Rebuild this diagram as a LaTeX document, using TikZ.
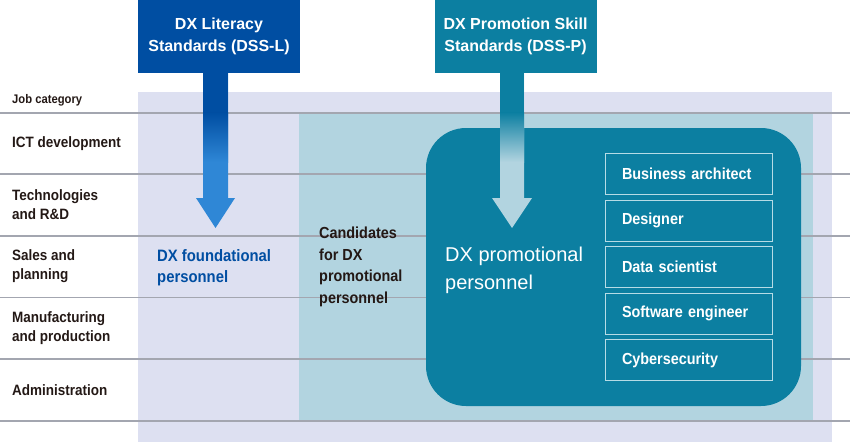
\documentclass[tikz,border=0pt]{standalone}
\usepackage{fontspec}
\setmainfont{Liberation Sans}
\newfontfamily\condfont[FakeStretch=0.9]{Liberation Sans}
\usepackage{tikz}
\usetikzlibrary{positioning}

\definecolor{dssblue}{HTML}{004EA2}
\definecolor{dssteal}{HTML}{0C7FA1}
\definecolor{liteblue}{HTML}{2F87D6}
\definecolor{jobbg}{HTML}{DDE0F1}
\definecolor{paleteal}{HTML}{B2D4E0}
\definecolor{rowline}{HTML}{A3A6B0}
\definecolor{labeltext}{HTML}{231815}
\definecolor{boxedge}{HTML}{B7DCE6}

\begin{document}
\begin{tikzpicture}[
        x=1pt, y=-1pt,
        node distance=46.5pt,
        rowlabel/.style={anchor=west, align=left, inner sep=0pt, text=labeltext, font=\condfont\bfseries\fontsize{15}{19}\selectfont},
        standard/.style={rectangle, inner sep=0pt, minimum width=162pt, minimum height=73pt, text=white, align=center, font=\bfseries\fontsize{16}{22.5}\selectfont},
        role/.style={rectangle, draw=boxedge, line width=0.8pt, text=white, text width=133pt, inner xsep=17pt, minimum height=41pt, align=left, font=\condfont\bfseries\fontsize{16}{19}\selectfont},
        rule/.style={rowline, line width=1.2pt}
    ]
        \useasboundingbox (0,0) rectangle (850,442);

        % Background areas
        \fill[jobbg] (138,92) rectangle (832,442);
        \fill[paleteal] (299,113) rectangle (813,421);

        % Row rules
        \draw[rule] (0,113) -- (850,113);
        \draw[rule] (0,174) -- (850,174);
        \draw[rule] (0,236) -- (850,236);
        \draw[rule] (0,297.5) -- (850,297.5);
        \draw[rule] (0,359) -- (850,359);
        \draw[rule] (0,421) -- (850,421);

        % DX promotional personnel area
        \fill[dssteal, rounded corners=40pt] (426,128) rectangle (801,406);

        % Standards
        \node[standard, fill=dssblue] (dssl) at (219,36.5) {DX Literacy\\Standards (DSS-L)};
        \node[standard, fill=dssteal] (dssp) at (515.5,36.5) {DX Promotion Skill\\Standards (DSS-P)};

        % Arrow from DSS-L
        \coordinate (litTip) at (215.5,228);
        \fill[liteblue] (203,73) -- (203,198) -- (196,198) -- (litTip) -- (235,198) -- (228,198) -- (228,73) -- cycle;
        \fill[dssblue] (203,72) rectangle (228,113);
        \shade[top color=dssblue, bottom color=liteblue] (203,112.5) rectangle (228,162);

        % Arrow from DSS-P
        \coordinate (proTip) at (512,228);
        \fill[paleteal] (500,73) -- (500,198) -- (492,198) -- (proTip) -- (532,198) -- (524,198) -- (524,73) -- cycle;
        \fill[dssteal] (500,72) rectangle (524,113);
        \shade[top color=dssteal, bottom color=paleteal] (500,112.5) rectangle (524,162);

        % Job categories
        \node[rowlabel, font=\condfont\bfseries\fontsize{12.5}{15}\selectfont] (jobcat) at (12,100) {Job category};
        \node[rowlabel] (ict) at (12,143.5) {ICT development};
        \node[rowlabel] (tech) at (12,205) {Technologies\\and R\&D};
        \node[rowlabel] (sales) at (12,266.5) {Sales and\\planning};
        \node[rowlabel] (manuf) at (12,328) {Manufacturing\\and production};
        \node[rowlabel] (admin) at (12,390) {Administration};

        % Personnel
        \node[rowlabel, text=dssblue, font=\condfont\bfseries\fontsize{16.5}{21}\selectfont] (found) at (157,268) {DX foundational\\personnel};
        \node[rowlabel, font=\condfont\bfseries\fontsize{16}{21.5}\selectfont] (cand) at (319,267) {Candidates\\for DX\\promotional\\personnel};
        \node[rowlabel, text=white, font=\fontsize{20}{28}\selectfont] (promo) at (445,270) {DX promotional\\personnel};

        % Roles
        \node[role] (biz) at (688.5,174) {Business architect};
        \node[role, below of=biz] (design) {Designer};
        \node[role, below of=design] (data) {Data scientist};
        \node[role, below of=data] (soft) {Software engineer};
        \node[role, below of=soft] (cyber) {Cybersecurity};

    \end{tikzpicture}
\end{document}
